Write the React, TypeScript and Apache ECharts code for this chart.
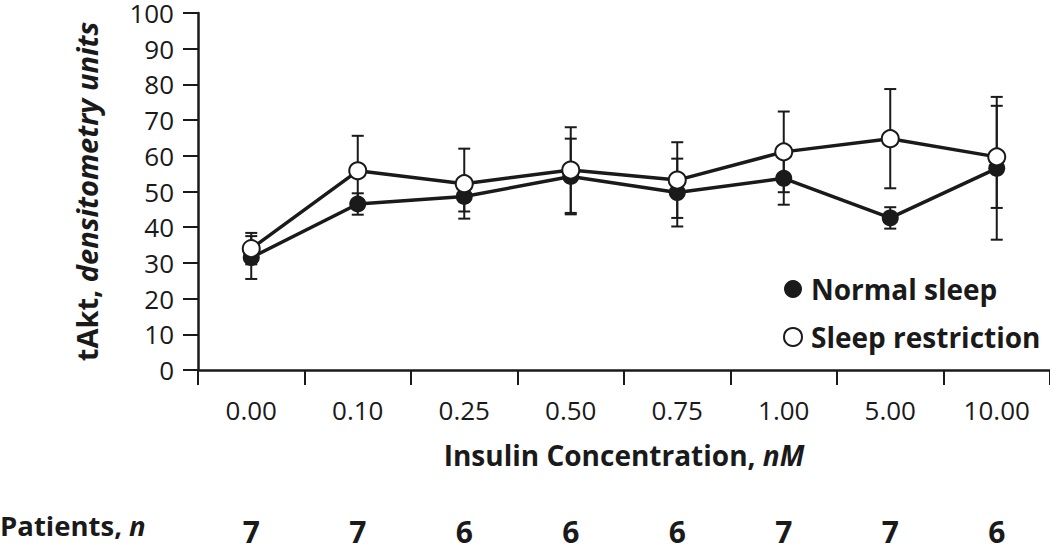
import React, { useEffect, useRef } from "react";
import * as echarts from "echarts";

const categories = ["0.00", "0.10", "0.25", "0.50", "0.75", "1.00", "5.00", "10.00"];
const normalSleep = [31.5, 46.5, 48.6, 54.2, 49.7, 53.7, 42.6, 56.5];
const normalSleepErr = [6, 3, 4.2, 10.6, 9.5, 7.4, 3, 20];
const sleepRestriction = [34, 55.8, 52.2, 56, 53.2, 61.1, 64.8, 59.7];
const sleepRestrictionErr = [4.4, 9.8, 9.8, 12, 10.6, 11.3, 13.9, 14.3];
const patients = [7, 7, 6, 6, 6, 7, 7, 6];
const yTicks = { min: 0, max: 100, interval: 10 };

const FONT = "'Open Sans', sans-serif";
const INK = "#1a1a1a";

function errData(vals: number[], errs: number[]) {
  return vals.map((v, i) => [i, v - errs[i], v + errs[i]]);
}

function renderErr(params: any, api: any) {
  const i = api.value(0);
  const lo = api.coord([i, api.value(1)]);
  const hi = api.coord([i, api.value(2)]);
  const hw = 6;
  const style = { stroke: INK, lineWidth: 2, fill: "none" };
  return {
    type: "group",
    children: [
      { type: "line", shape: { x1: lo[0], y1: lo[1], x2: hi[0], y2: hi[1] }, style },
      { type: "line", shape: { x1: lo[0] - hw, y1: lo[1], x2: lo[0] + hw, y2: lo[1] }, style },
      { type: "line", shape: { x1: hi[0] - hw, y1: hi[1], x2: hi[0] + hw, y2: hi[1] }, style },
    ],
  };
}

export default function App() {
  const ref = useRef<HTMLDivElement>(null);
  useEffect(() => {
    if (!ref.current) return;
    const chart = echarts.init(ref.current, undefined, { renderer: "svg" });
    chart.setOption({
      animation: false,
      backgroundColor: "#fff",
      grid: { left: 198, right: 0, top: 10, bottom: 176, containLabel: false },
      legend: {
        orient: "vertical",
        left: 778,
        top: 268,
        itemGap: 16,
        itemWidth: 18,
        itemHeight: 18,
        textStyle: {
          fontFamily: FONT,
          fontWeight: "bold",
          fontSize: 28,
          lineHeight: 32,
          color: INK,
          padding: [0, 0, 0, 4],
        },
        data: [
          { name: "Normal sleep", icon: "circle", itemStyle: { color: INK, borderColor: INK, borderWidth: 0 } },
          { name: "Sleep restriction", icon: "circle", itemStyle: { color: "#fff", borderColor: INK, borderWidth: 2 } },
        ],
      },
      xAxis: [
        {
          type: "category",
          data: categories,
          boundaryGap: true,
          axisLine: { lineStyle: { color: INK, width: 2.5 } },
          axisTick: { show: true, length: 15, lineStyle: { color: INK, width: 2 } },
          axisLabel: { fontFamily: FONT, fontSize: 26, lineHeight: 24, color: INK, margin: 28 },
          name: "Insulin Concentration, {i|nM}",
          nameLocation: "middle",
          nameGap: 71,
          nameTextStyle: {
            fontFamily: FONT,
            fontSize: 28,
            fontWeight: "bold",
            color: INK,
            rich: { i: { fontFamily: FONT, fontSize: 28, fontWeight: "bold", fontStyle: "italic", color: INK } },
          },
        },
        {
          type: "category",
          data: patients.map(String),
          position: "bottom",
          offset: 138,
          boundaryGap: true,
          axisLine: { show: false },
          axisTick: { show: false },
          axisLabel: { fontFamily: FONT, fontSize: 30, lineHeight: 26, fontWeight: "bold", color: INK, margin: 10 },
        },
      ],
      yAxis: {
        type: "value",
        min: yTicks.min,
        max: yTicks.max,
        interval: yTicks.interval,
        splitLine: { show: false },
        axisLine: { show: true, lineStyle: { color: INK, width: 2.5 } },
        axisTick: { show: true, length: 15, lineStyle: { color: INK, width: 2 } },
        axisLabel: { fontFamily: FONT, fontSize: 26, lineHeight: 20, color: INK, margin: 24 },
        name: "tAkt, {i|densitometry units}",
        nameLocation: "middle",
        nameRotate: 90,
        nameGap: 97,
        nameTextStyle: {
          fontFamily: FONT,
          fontSize: 29,
          fontWeight: "bold",
          color: INK,
          rich: { i: { fontFamily: FONT, fontSize: 29, fontWeight: "bold", fontStyle: "italic", color: INK } },
        },
      },
      graphic: [
        {
          type: "text",
          left: 0,
          top: 511,
          style: {
            text: "Patients, {i|n}",
            fontFamily: FONT,
            fontSize: 27.5,
            fontWeight: "bold",
            fill: INK,
            rich: { i: { fontFamily: FONT, fontSize: 27.5, fontWeight: "bold", fontStyle: "italic", fill: INK } },
          },
        },
      ],
      series: [
        {
          name: "Normal sleep err",
          type: "custom",
          renderItem: renderErr,
          data: errData(normalSleep, normalSleepErr),
          z: 1,
          silent: true,
        },
        {
          name: "Sleep restriction err",
          type: "custom",
          renderItem: renderErr,
          data: errData(sleepRestriction, sleepRestrictionErr),
          z: 1,
          silent: true,
        },
        {
          name: "Normal sleep",
          type: "line",
          data: normalSleep,
          symbol: "circle",
          symbolSize: 17,
          lineStyle: { color: INK, width: 3.5 },
          itemStyle: { color: INK },
          z: 3,
        },
        {
          name: "Sleep restriction",
          type: "line",
          data: sleepRestriction,
          symbol: "circle",
          symbolSize: 17,
          lineStyle: { color: INK, width: 3.5 },
          itemStyle: { color: "#fff", borderColor: INK, borderWidth: 2 },
          z: 4,
        },
      ],
    });
    return () => chart.dispose();
  }, []);
  return (
    <div
      ref={ref}
      style={{ position: "fixed", left: 0, top: 0, width: 1050, height: 546, background: "#fff" }}
    />
  );
}
